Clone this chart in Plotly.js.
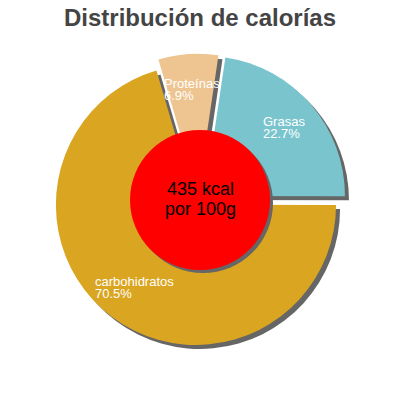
<!DOCTYPE html>
<html><head><meta charset="utf-8">
<script src="https://cdn.plot.ly/plotly-3.0.1.min.js"></script>
<style>html,body{margin:0;padding:0;background:#fff}</style>
</head><body><div id="chart" style="width:400px;height:400px"></div>
<script>
// ---- data ----
const categories = ['Proteínas', 'Grasas', 'carbohidratos'];
const values = [6.9, 22.7, 70.5];
const percentLabels = ['6.9%', '22.7%', '70.5%'];
const energyLines = ['435 kcal', 'por 100g'];
const titleText = 'Distribución de calorías';

// ---- style ----
const sliceColors = ['#EEC591', '#7AC5CD', '#DAA520'];
const shadowColor = '#666666';
const pulls = [0.055, 0.06, 0.03];
const rotation = -16.4;
const FONT = "'Liberation Sans', Arial, sans-serif";

// ---- geometry ----
const W = 400, H = 400;
const M = {l: 50, r: 49, t: 53, b: 46};
const plotW = W - M.l - M.r, plotH = H - M.t - M.b;
const off = 4; // shadow offset px
const px2x = X => (X - M.l) / plotW;
const px2y = Y => (M.t + plotH - Y) / plotH;
const cx = M.l + (plotW - off) / 2, cy = M.t + (plotH - off) / 2;
const maxPull = Math.max(...pulls);
const R = (plotW - off) / 2 / (1 + maxPull);

const pieBase = {
  type: 'pie', values: values, labels: categories, sort: false,
  direction: 'clockwise', rotation: rotation, pull: pulls,
  textinfo: 'none', hoverinfo: 'skip', showlegend: false
};
const shadow = Object.assign({}, pieBase, {
  marker: {colors: categories.map(() => shadowColor), line: {width: 0}},
  domain: {x: [off / plotW, 1], y: [0, (plotH - off) / plotH]}
});
const main = Object.assign({}, pieBase, {
  marker: {colors: sliceColors, line: {width: 0}},
  domain: {x: [0, (plotW - off) / plotW], y: [off / plotH, 1]}
});

// labels
const ctx = document.createElement('canvas').getContext('2d');
ctx.font = "13px 'Liberation Sans'";
const total = values.reduce((a, b) => a + b, 0);
let cum = 0;
const annotations = [];
values.forEach((v, i) => {
  const mid = (rotation + 360 * (cum + v / 2) / total) * Math.PI / 180;
  cum += v;
  const rr = (pulls[i] + 0.74) * R;
  const X = cx + rr * Math.sin(mid), Y = cy - rr * Math.cos(mid);
  const w = Math.max(ctx.measureText(categories[i]).width, ctx.measureText(percentLabels[i]).width);
  const left = X - w / 2;
  const f = {family: FONT, size: 13, color: '#ffffff'};
  annotations.push({xref: 'paper', yref: 'paper', x: px2x(left), y: px2y(Y), xanchor: 'left', yanchor: 'bottom',
    text: categories[i], showarrow: false, font: f, borderpad: 0, yshift: -2});
  annotations.push({xref: 'paper', yref: 'paper', x: px2x(left), y: px2y(Y), xanchor: 'left', yanchor: 'top',
    text: percentLabels[i], showarrow: false, font: f, borderpad: 0, yshift: 3});
});

// center circle
const ccX = 200, ccY = 200, cr = 70, so = 3;
const shapes = [
  {type: 'circle', xref: 'paper', yref: 'paper', layer: 'above',
   x0: px2x(ccX - cr + so), x1: px2x(ccX + cr + so), y0: px2y(ccY + cr + so), y1: px2y(ccY - cr + so),
   fillcolor: shadowColor, line: {width: 0}},
  {type: 'circle', xref: 'paper', yref: 'paper', layer: 'above',
   x0: px2x(ccX - cr), x1: px2x(ccX + cr), y0: px2y(ccY + cr), y1: px2y(ccY - cr),
   fillcolor: '#FF0000', line: {width: 0}}
];
const centerY = [189, 208.5];
energyLines.forEach((t, i) => {
  annotations.push({xref: 'paper', yref: 'paper', x: px2x(ccX), y: px2y(centerY[i]), xanchor: 'center', yanchor: 'middle',
    text: t, showarrow: false, font: {family: FONT, size: 18, color: '#000000'}, borderpad: 0});
});

const layout = {
  width: W, height: H, margin: M,
  paper_bgcolor: '#ffffff', plot_bgcolor: '#ffffff',
  title: {text: titleText, x: 0.5, xanchor: 'center', xref: 'paper', y: 1 - 18 / H, yanchor: 'middle', yref: 'container',
    font: {family: FONT, size: 24, color: '#444444', weight: 'bold'}},
  shapes: shapes, annotations: annotations, showlegend: false
};
layout.title.xref = 'container';
Plotly.newPlot('chart', [shadow, main], layout, {displayModeBar: false, staticPlot: true});
</script></body></html>
